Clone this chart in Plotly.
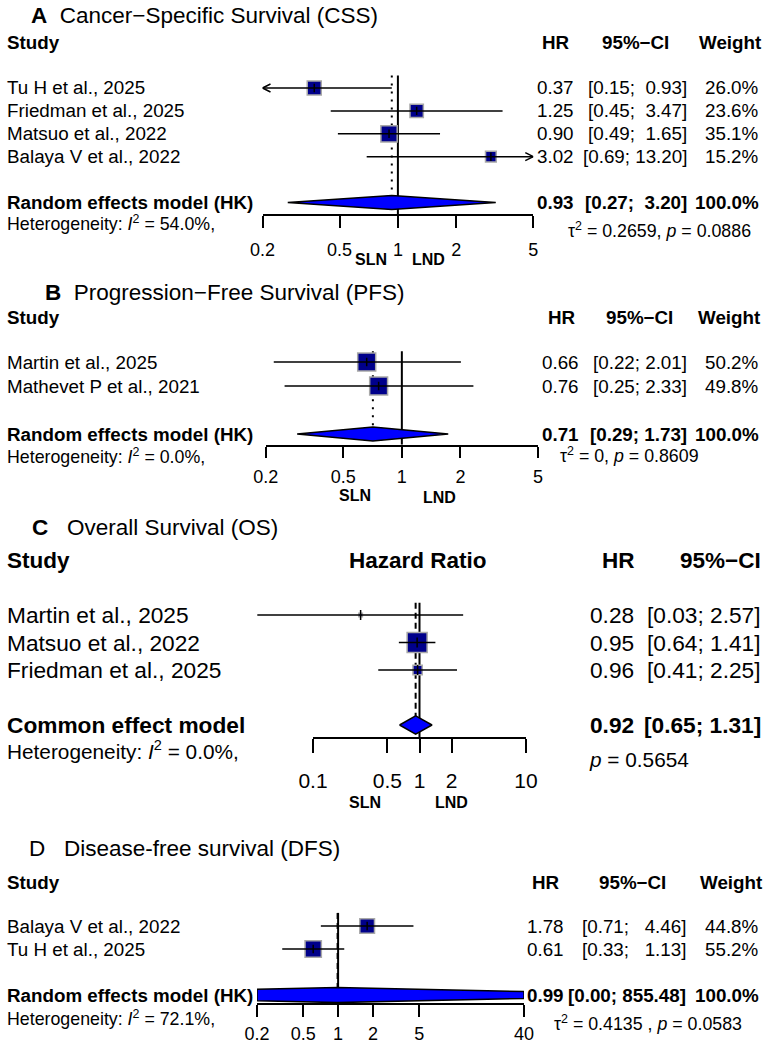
import math
import plotly.graph_objects as go

W, H = 767, 1049
FONT = "Liberation Sans, Arial, sans-serif"
MINUS = "\u2212"
NB = "\u00a0"

# ---------------- data ----------------
# A: Cancer-specific survival
css_study = ["Tu H et al., 2025", "Friedman et al., 2025", "Matsuo et al., 2022", "Balaya V et al., 2022"]
css_hr = [0.37, 1.25, 0.90, 3.02]
css_lo = [0.15, 0.45, 0.49, 0.69]
css_hi = [0.93, 3.47, 1.65, 13.20]
css_weight = [26.0, 23.6, 35.1, 15.2]
css_pooled = [0.93, 0.27, 3.20]
css_i2 = "54.0%"
css_stat = "\u03c4<sup>2</sup> = 0.2659, <i>p</i> = 0.0886"
css_ticks = [0.2, 0.5, 1, 2, 5]

# B: Progression-free survival
pfs_study = ["Martin et al., 2025", "Mathevet P et al., 2021"]
pfs_hr = [0.66, 0.76]
pfs_lo = [0.22, 0.25]
pfs_hi = [2.01, 2.33]
pfs_weight = [50.2, 49.8]
pfs_pooled = [0.71, 0.29, 1.73]
pfs_i2 = "0.0%"
pfs_stat = "\u03c4<sup>2</sup> = 0, <i>p</i> = 0.8609"
pfs_ticks = [0.2, 0.5, 1, 2, 5]

# C: Overall survival
os_study = ["Martin et al., 2025", "Matsuo et al., 2022", "Friedman et al., 2025"]
os_hr = [0.28, 0.95, 0.96]
os_lo = [0.03, 0.64, 0.41]
os_hi = [2.57, 1.41, 2.25]
os_weight = [2.5, 80.2, 17.3]   # common-effect weights (not printed)
os_pooled = [0.92, 0.65, 1.31]
os_i2 = "0.0%"
os_stat = "<i>p</i> = 0.5654"
os_ticks = [0.1, 0.5, 1, 2, 10]

# D: Disease-free survival
dfs_study = ["Balaya V et al., 2022", "Tu H et al., 2025"]
dfs_hr = [1.78, 0.61]
dfs_lo = [0.71, 0.33]
dfs_hi = [4.46, 1.13]
dfs_weight = [44.8, 55.2]
dfs_pooled = [0.99, 0.00, 855.48]
dfs_i2 = "72.1%"
dfs_stat = "\u03c4<sup>2</sup> = 0.4135 , <i>p</i> = 0.0583"
dfs_ticks = [0.2, 0.5, 1, 2, 5, 40]

# ---------------- drawing ----------------
fig = go.Figure()
ann = []
layout = {}


def add_text(text, x_px, y_px, size, xanchor="left", bold=False):
    if bold:
        text = "<b>" + text + "</b>"
    ann.append(dict(text=text, x=x_px / W, xref="paper", y=1 - y_px / H, yref="paper",
                    xanchor=xanchor, yanchor="middle", showarrow=False,
                    borderpad=0, borderwidth=0,
                    font=dict(family=FONT, size=size, color="black")))


def line(xa, ya, xs, ys, width=1.5, dash=None):
    fig.add_trace(go.Scatter(x=xs, y=ys, mode="lines", xaxis=xa, yaxis=ya,
                             line=dict(color="black", width=width, dash=dash),
                             showlegend=False, hoverinfo="skip"))


def diamond(est, lo, hi, y, h, xmin, xmax):
    if lo <= 0:
        lo = est * est / hi
    le, ll, lh = math.log10(est), math.log10(lo), math.log10(hi)
    a, b = math.log10(xmin), math.log10(xmax)

    def half(t):
        return h * (t - ll) / (le - ll) if t <= le else h * (lh - t) / (lh - le)
    xl, xr = max(ll, a), min(lh, b)
    hl, hr_ = half(xl), half(xr)
    xs = [xl, xl, le, xr, xr, le, xl]
    ys = [y + hl, y - hl, y - h, y - hr_, y + hr_, y + h, y + hl]
    return [10 ** t for t in xs], ys


def draw_panel(k, st, study, hr, lo, hi, weight, pooled, model_label, i2, stat, ticks):
    xa = "x" if k == 1 else f"x{k}"
    ya = "y" if k == 1 else f"y{k}"
    n = len(study)
    rows = [i + 1 for i in range(n)]
    sidx = st["sum_idx"]

    def idx_px(i):
        return st["row1"] + (i - 1) * st["dy"]

    bot_px, top_px = idx_px(st["axis_idx"]), idx_px(0)
    xmin, xmax = st["xlim"]
    pxdec = (st["xpx"][1] - st["xpx"][0]) / (math.log10(xmax) - math.log10(xmin))
    fs = st["fs"]
    tick_common = dict(showline=True, linecolor="black", linewidth=2, ticks="outside",
                       ticklen=st["ticklen"], tickwidth=2, tickcolor="black",
                       tickvals=ticks, ticktext=[f"{v:g}" for v in ticks],
                       tickfont=dict(family=FONT, size=st["tickfont"], color="black"),
                       ticklabelstandoff=st["standoff"])

    # axes
    xaxis = dict(type="log", domain=[st["xpx"][0] / W, st["xpx"][1] / W],
                 range=[math.log10(xmin), math.log10(xmax)], anchor=ya,
                 showgrid=False, zeroline=False)
    if st.get("display") is None:
        xaxis.update(tick_common)
    else:
        xaxis.update(showline=False, ticks="", showticklabels=False)
    layout["xaxis" if k == 1 else f"xaxis{k}"] = xaxis
    layout["yaxis" if k == 1 else f"yaxis{k}"] = dict(
        domain=[1 - bot_px / H, 1 - top_px / H], range=[st["axis_idx"], 0],
        visible=False, anchor=xa, showgrid=False, zeroline=False)

    if st.get("display") is not None:
        dk, dlim, dpx = st["display"]
        dax = dict(type="log", domain=[dpx[0] / W, dpx[1] / W],
                   range=[math.log10(dlim[0]), math.log10(dlim[1])], anchor=f"y{dk}",
                   showgrid=False, zeroline=False)
        dax.update(tick_common)
        layout[f"xaxis{dk}"] = dax
        layout[f"yaxis{dk}"] = dict(domain=[1 - bot_px / H, 1 - top_px / H],
                                    range=[st["axis_idx"], 0], visible=False,
                                    anchor=f"x{dk}")
        fig.add_trace(go.Scatter(x=[1], y=[1], mode="markers", xaxis=f"x{dk}",
                                 yaxis=f"y{dk}", marker=dict(opacity=0),
                                 showlegend=False, hoverinfo="skip"))

    # reference lines
    line(xa, ya, [1, 1], [st["vtop"], st["axis_idx"]], width=2)
    line(xa, ya, [pooled[0], pooled[0]], [st["vtop"], sidx - st["dh"]],
         width=st["ref_w"], dash=st["ref_dash"])

    # squares
    wmax = max(weight)
    sizes = [st["sqmax"] * math.sqrt(v / wmax) for v in weight]
    fig.add_trace(go.Scatter(x=hr, y=rows, mode="markers", xaxis=xa, yaxis=ya,
                             marker=dict(symbol="square", size=sizes, color="#00008B",
                                         opacity=1,
                                         line=dict(color="#A8A8A8", width=1.5)),
                             showlegend=False, hoverinfo="skip"))
    # CI lines and arrows
    wdx = 8 / pxdec
    wdy = 4 / st["dy"]
    for i in range(n):
        lx, hx = max(lo[i], xmin), min(hi[i], xmax)
        line(xa, ya, [lx, hx], [rows[i], rows[i]], width=1.5)
        if lo[i] < xmin:
            tip = xmin
            wx = tip * 10 ** wdx
            line(xa, ya, [wx, tip, wx], [rows[i] - wdy, rows[i], rows[i] + wdy], width=1.5)
        if hi[i] > xmax:
            tip = xmax
            wx = tip * 10 ** (-wdx)
            line(xa, ya, [wx, tip, wx], [rows[i] - wdy, rows[i], rows[i] + wdy], width=1.5)
    fig.add_trace(go.Scatter(x=hr, y=rows, mode="markers", xaxis=xa, yaxis=ya,
                             marker=dict(symbol="line-ns", size=st["tick_sz"], opacity=1,
                                         line=dict(color="black", width=1.5)),
                             showlegend=False, hoverinfo="skip"))
    # pooled diamond
    dxs, dys = diamond(pooled[0], pooled[1], pooled[2], sidx, st["dh"], xmin, xmax)
    fig.add_trace(go.Scatter(x=dxs, y=dys, mode="lines", fill="toself", fillcolor="#0000FF",
                             xaxis=xa, yaxis=ya, line=dict(color="black", width=1.5),
                             showlegend=False, hoverinfo="skip"))

    # ------------- text -------------
    hdr = idx_px(st["hdr_idx"])
    add_text("Study", 7, hdr, st["hdr_fs"], bold=True)
    for i in range(n):
        add_text(study[i], 7, idx_px(rows[i]), fs)
    add_text(model_label, 7, idx_px(sidx), st["bold_fs"], bold=True)
    add_text(f"Heterogeneity: <i>I</i><sup>2</sup> = {i2},", 7, idx_px(st["het_idx"]), st["het_fs"])
    add_text(stat, st["stat_x"], idx_px(st["stat_idx"]), st["het_fs"], xanchor=st["stat_anchor"])

    his = [f"{v:.2f}" for v in hi] + [f"{pooled[2]:.2f}"]
    maxlen = max(len(s) for s in his)

    def ci(l, h):
        hs = f"{h:.2f}"
        return f"[{l:.2f};{NB * (maxlen - len(hs))} {hs}]"

    if st.get("mid_hdr"):
        add_text(st["mid_hdr"][0], st["mid_hdr"][1], hdr, st["hdr_fs"], xanchor="center", bold=True)
    add_text("HR", st["hdr_x"][0], hdr, st["hdr_fs"], xanchor="center", bold=True)
    add_text("95%" + MINUS + "CI", st["hdr_x"][1], hdr, st["hdr_fs"],
             xanchor=st.get("ci_hdr_anchor", "center"), bold=True)
    if st.get("w_r"):
        add_text("Weight", st["hdr_x"][2], hdr, st["hdr_fs"], xanchor="center", bold=True)
    for i in range(n):
        y = idx_px(rows[i])
        add_text(f"{hr[i]:.2f}", st["hr_r"], y, fs, xanchor="right")
        add_text(ci(lo[i], hi[i]), st["ci_r"], y, fs, xanchor="right")
        if st.get("w_r"):
            add_text(f"{weight[i]:.1f}%", st["w_r"], y, fs, xanchor="right")
    y = idx_px(sidx)
    add_text(f"{pooled[0]:.2f}", st["hr_r"], y, st["bold_fs"], xanchor="right", bold=True)
    add_text(ci(pooled[1], pooled[2]), st["ci_r"], y, st["bold_fs"], xanchor="right", bold=True)
    if st.get("w_r"):
        add_text("100.0%", st["w_r"], y, st["bold_fs"], xanchor="right", bold=True)


ST_A = dict(row1=88, dy=22.9, axis_idx=6.5, sum_idx=6, vtop=0.45, xlim=(0.2, 5), xpx=(262.5, 533.3),
            dh=0.31, sqmax=16.3, tick_sz=6, ticklen=12, tickfont=18, standoff=6,
            ref_w=2, ref_dash="2px,6px", fs=18.8, bold_fs=18.8, hdr_fs=18.8, het_fs=17.8,
            hr_r=574, ci_r=687, w_r=759, hdr_x=(556, 635, 730), hdr_idx=-1.0,
            het_idx=6.9, stat_x=659, stat_idx=7.2, stat_anchor="center")
ST_B = dict(row1=362, dy=24, axis_idx=4.45, sum_idx=4, vtop=0.55, xlim=(0.2, 5), xpx=(265.7, 538),
            dh=0.29, sqmax=18, tick_sz=6, ticklen=11, tickfont=18, standoff=4,
            ref_w=2, ref_dash="2px,6px", fs=18.8, bold_fs=18.8, hdr_fs=18.8, het_fs=17.8,
            hr_r=579, ci_r=687, w_r=759, hdr_x=(562, 639, 729), hdr_idx=-0.875,
            het_idx=4.92, stat_x=629, stat_idx=4.875, stat_anchor="center")
ST_C = dict(row1=615, dy=27.5, axis_idx=5.45, sum_idx=5, vtop=0.55, xlim=(0.02, 20),
            xpx=(313 - 106.5 * math.log10(5), 526 + 106.5 * math.log10(2)),
            display=(5, (0.1, 10), (313, 526)),
            dh=0.33, sqmax=20, tick_sz=7, ticklen=14, tickfont=21, standoff=9,
            ref_w=2, ref_dash="6px,4px", fs=22.7, bold_fs=22.7, hdr_fs=22.5, het_fs=20.8,
            hr_r=634, ci_r=761, w_r=None, hdr_x=(618, 761), ci_hdr_anchor="right",
            mid_hdr=("Hazard Ratio", 418), hdr_idx=-1.0,
            het_idx=5.9, stat_x=589, stat_idx=6.27, stat_anchor="left")
ST_D = dict(row1=926, dy=23, axis_idx=4.35, sum_idx=4, vtop=0.43, xlim=(0.2, 40), xpx=(257, 524),
            dh=0.33, sqmax=16.3, tick_sz=6, ticklen=12, tickfont=18, standoff=1,
            ref_w=2, ref_dash="6px,4px", fs=18.8, bold_fs=18.8, hdr_fs=18.8, het_fs=17.8,
            hr_r=564, ci_r=686, w_r=759, hdr_x=(546, 632, 731), hdr_idx=-0.87,
            het_idx=5.0, stat_x=648, stat_idx=5.22, stat_anchor="center")

draw_panel(1, ST_A, css_study, css_hr, css_lo, css_hi, css_weight, css_pooled,
           "Random effects model (HK)", css_i2, css_stat, css_ticks)
draw_panel(2, ST_B, pfs_study, pfs_hr, pfs_lo, pfs_hi, pfs_weight, pfs_pooled,
           "Random effects model (HK)", pfs_i2, pfs_stat, pfs_ticks)
draw_panel(3, ST_C, os_study, os_hr, os_lo, os_hi, os_weight, os_pooled,
           "Common effect model", os_i2, os_stat, os_ticks)
draw_panel(4, ST_D, dfs_study, dfs_hr, dfs_lo, dfs_hi, dfs_weight, dfs_pooled,
           "Random effects model (HK)", dfs_i2, dfs_stat, dfs_ticks)

# panel titles
titles = [
    ("<b>A</b>" + NB + " Cancer" + MINUS + "Specific Survival (CSS)", 31, 15),
    ("<b>B</b>" + NB + " Progression" + MINUS + "Free Survival (PFS)", 45, 293),
    ("<b>C</b>" + NB + NB + " Overall Survival (OS)", 32, 527),
    ("D" + NB + NB + " Disease-free survival (DFS)", 29, 848),
]
for t, xp, yp in titles:
    add_text(t, xp, yp, 22.5)

# direction labels
for t, xp, yp in [("SLN", 371, 259), ("LND", 428, 259), ("SLN", 355, 495), ("LND", 439, 497),
                  ("SLN", 365, 802), ("LND", 451, 802)]:
    add_text(t, xp, yp, 16, xanchor="center", bold=True)

fig.update_layout(width=W, height=H, autosize=False,
                  margin=dict(l=0, r=0, t=0, b=0, pad=0, autoexpand=False),
                  paper_bgcolor="white", plot_bgcolor="rgba(0,0,0,0)",
                  showlegend=False, annotations=ann, **layout)
fig.write_html("out.html")
